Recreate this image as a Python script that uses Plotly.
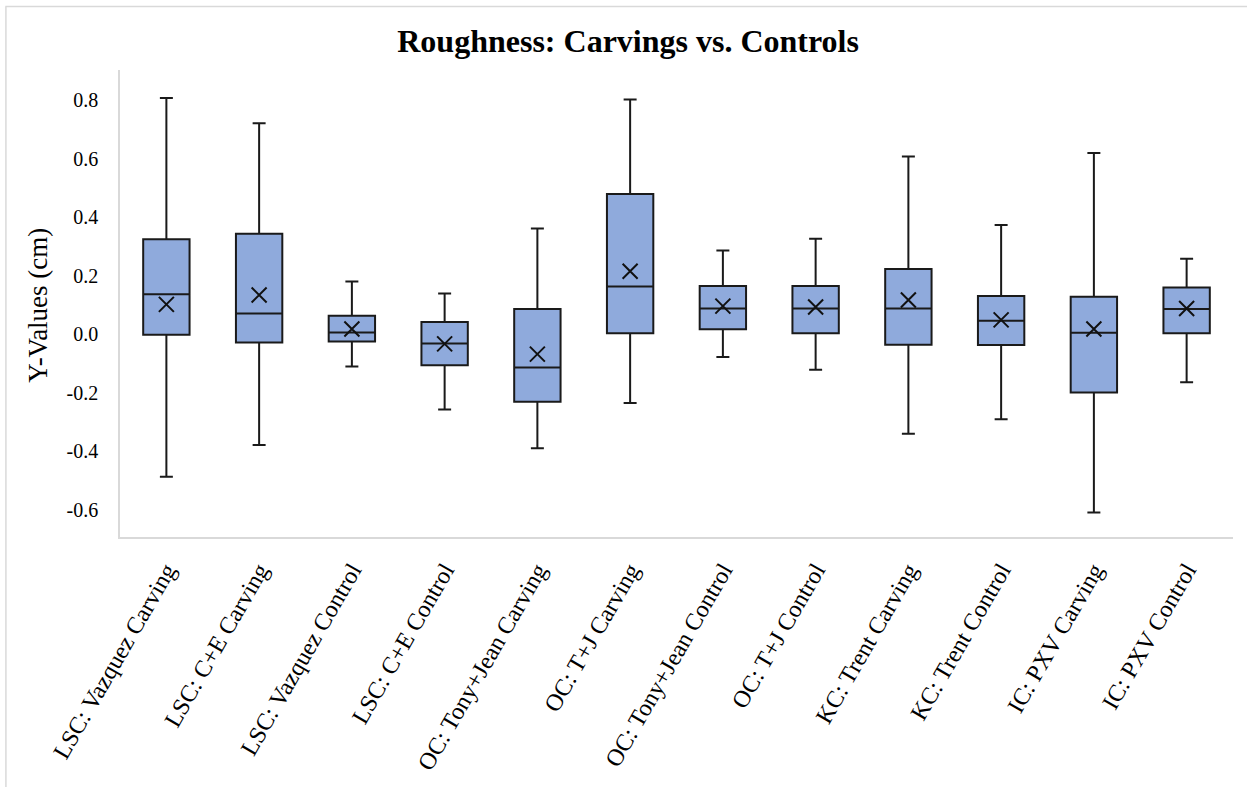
import plotly.graph_objects as go

categories = [
    "LSC: Vazquez Carving", "LSC: C+E Carving", "LSC: Vazquez Control",
    "LSC: C+E Control", "OC: Tony+Jean Carving", "OC: T+J Carving",
    "OC: Tony+Jean Control", "OC: T+J Control", "KC: Trent Carving",
    "KC: Trent Control", "IC: PXV Carving", "IC: PXV Control",
]
upper_whisker = [0.807, 0.721, 0.180, 0.139, 0.361, 0.802, 0.286, 0.326, 0.607, 0.373, 0.619, 0.258]
q3 = [0.325, 0.343, 0.063, 0.042, 0.086, 0.479, 0.165, 0.165, 0.223, 0.131, 0.128, 0.160]
median = [0.137, 0.071, 0.006, -0.032, -0.114, 0.163, 0.088, 0.088, 0.088, 0.046, 0.005, 0.086]
q1 = [-0.002, -0.028, -0.025, -0.106, -0.231, 0.003, 0.017, 0.003, -0.036, -0.037, -0.199, 0.003]
lower_whisker = [-0.487, -0.379, -0.110, -0.257, -0.390, -0.235, -0.078, -0.121, -0.340, -0.291, -0.609, -0.164]
mean = [0.102, 0.134, 0.018, -0.033, -0.068, 0.215, 0.096, 0.093, 0.117, 0.049, 0.018, 0.088]

y_tickvals = [-0.6, -0.4, -0.2, 0.0, 0.2, 0.4, 0.6, 0.8]
y_ticktext = ["-0.6", "-0.4", "-0.2", "0.0", "0.2", "0.4", "0.6", "0.8"]

SERIF = "Liberation Serif, Times New Roman, serif"

fig = go.Figure()
fig.add_trace(go.Box(
    x=categories, q1=q1, median=median, q3=q3,
    lowerfence=lower_whisker, upperfence=upper_whisker,
    boxpoints=False, width=0.5, whiskerwidth=0.28,
    fillcolor="#8FAADC", line=dict(color="#1a1a1a", width=2),
    showlegend=False, hoverinfo="skip",
))
fig.add_trace(go.Scatter(
    x=categories, y=mean, mode="markers",
    marker=dict(symbol="x-thin", size=15, color="#111111",
                line=dict(color="#111111", width=2)),
    showlegend=False, hoverinfo="skip",
))

fig.update_layout(
    width=1247, height=787,
    margin=dict(l=120, r=14, t=70, b=247),
    paper_bgcolor="white", plot_bgcolor="white",
    font=dict(family=SERIF, color="#000000", size=20),
    title=dict(text="<b>Roughness: Carvings vs. Controls</b>",
               x=0.5037, xanchor="center", y=1 - 41 / 787, yanchor="middle",
               yref="container", font=dict(family=SERIF, size=32, color="#000000")),
    xaxis=dict(type="category", range=[-0.5, 11.5], showline=True,
               linecolor="#d9d9d9", linewidth=1.5, showgrid=False, ticks="",
               tickangle=-60, tickfont=dict(family=SERIF, size=24, color="#000000"),
               ticklabelstandoff=8),
    yaxis=dict(range=[-0.693, 0.903], tickvals=y_tickvals, ticktext=y_ticktext,
               showline=True, linecolor="#d9d9d9", linewidth=1.5, showgrid=False,
               zeroline=False, ticks="", ticklabelstandoff=16,
               tickfont=dict(family=SERIF, size=20, color="#000000")),
    annotations=[dict(text="Y-Values (cm)", textangle=-90, xref="paper", yref="paper",
                      x=-0.0737, y=0.497, xanchor="center", yanchor="middle",
                      showarrow=False, font=dict(family=SERIF, size=27, color="#000000"))],
    shapes=[
        dict(type="line", xref="paper", yref="paper", x0=-0.103, x1=1.02,
             y0=1.1362, y1=1.1362, line=dict(color="#d9d9d9", width=1.5)),
        dict(type="line", xref="paper", yref="paper", x0=-0.1025, x1=-0.1025,
             y0=1.1362, y1=-0.54, line=dict(color="#d9d9d9", width=1.5)),
    ],
)

fig.write_html("out.html")
